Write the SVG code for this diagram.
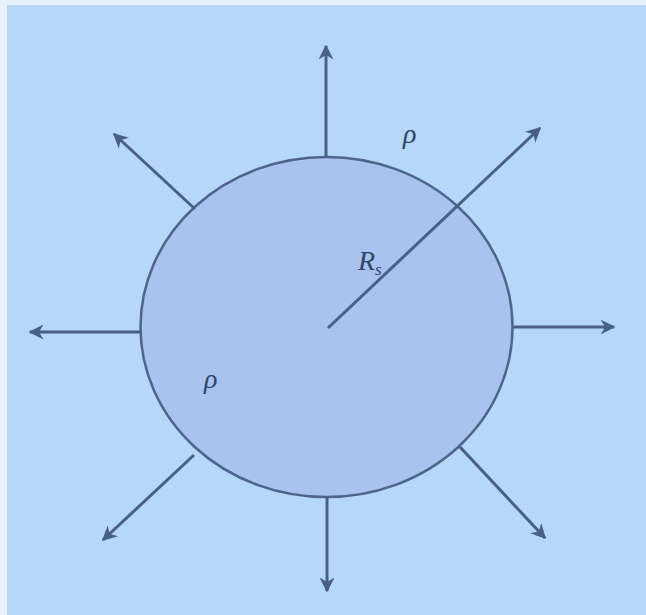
<svg xmlns="http://www.w3.org/2000/svg" width="646" height="615" viewBox="0 0 646 615">
<defs>
<style>
.bg{fill:#b5d7f8}
.ball{fill:#a9c3f0;stroke:#4f6488;stroke-width:2.5}
.arr{stroke:#4a5f85;stroke-width:3;fill:none;marker-end:url(#ah)}
.lbl{font-family:"Liberation Serif",serif;font-style:italic;fill:#2f4466}
</style>
<marker id="ah" viewBox="0 0 10 10" refX="9" refY="5" markerWidth="5" markerHeight="5" orient="auto" markerUnits="strokeWidth">
<path d="M0,0 L10,5 L0,10 L3,5 Z" fill="#4a5f85"/>
</marker>
</defs>
<rect class="bg" x="0" y="0" width="646" height="615"/>
<rect x="0" y="0" width="7" height="615" fill="#e8f2fc"/>
<rect x="0" y="0" width="646" height="5" fill="#e8f2fc"/>
<g id="sphere">
<ellipse class="ball" cx="326.5" cy="327" rx="186" ry="170"/>
</g>
<g id="connectors">
<line class="arr" x1="326" y1="157" x2="326" y2="46"/>
<line class="arr" x1="327" y1="497" x2="327" y2="591"/>
<line class="arr" x1="140" y1="332" x2="30" y2="332"/>
<line class="arr" x1="513" y1="327" x2="614" y2="327"/>
<line class="arr" x1="195" y1="209" x2="114" y2="134"/>
<line class="arr" x1="328" y1="328" x2="540" y2="128"/>
<line class="arr" x1="194" y1="455" x2="103" y2="540"/>
<line class="arr" x1="460" y1="447" x2="545" y2="538"/>
</g>
<g id="labels">
<text class="lbl" x="403" y="143" font-size="28">ρ</text>
<text class="lbl" x="204" y="388" font-size="28">ρ</text>
<text class="lbl" x="358" y="270" font-size="28">R<tspan font-size="17" dy="5">s</tspan></text>
</g>
</svg>
